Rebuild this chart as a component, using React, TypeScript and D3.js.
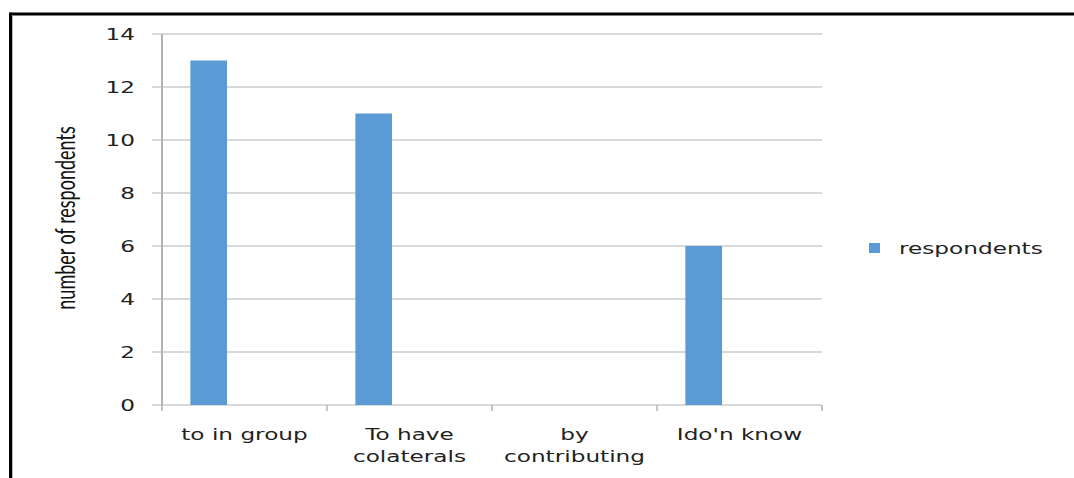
import React from "react";
import * as d3 from "d3";

const categories = ["to in group", "To have colaterals", "by contributing", "Ido'n know"];
const categoryLines = [["to in group"], ["To have", "colaterals"], ["by", "contributing"], ["Ido'n know"]];
const respondents = [13, 11, 0, 6];
const yTicks = [0, 2, 4, 6, 8, 10, 12, 14];
const seriesName = "respondents";
const yTitle = "number of respondents";

const W = 1074;
const H = 478;
const plot = { left: 162, right: 822, top: 34, bottom: 405 };
const SX = 1.45; // horizontal glyph stretch
const FONT = "'DejaVu Sans', Verdana, sans-serif";
const TITLE_FONT = "Lato, 'Open Sans', sans-serif";
const BAR = "#5b9bd5";
const GRID = "#b3b3b3";
const TEXT = "#222";

export default function App() {
  const x = d3.scaleBand<string>().domain(categories).range([plot.left, plot.right]).padding(0);
  const y = d3.scaleLinear().domain([0, 14]).range([plot.bottom, plot.top]);
  const bw = x.bandwidth();
  const bars = categories.map((c, i) => ({ c, v: respondents[i] }));

  return (
    <svg
      width={W}
      height={H}
      style={{ position: "absolute", left: 0, top: 0, background: "#fff" }}
    >
      <rect x={0} y={0} width={W} height={H} fill="#fff" />
      {/* outer frame */}
      <line x1={10.5} x2={W} y1={14} y2={14} stroke="#000" strokeWidth={3} />
      <line x1={10.5} x2={10.5} y1={12.5} y2={H} stroke="#000" strokeWidth={3} />
      <line x1={12.5} x2={12.5} y1={15.5} y2={H} stroke="#bbb" strokeWidth={1} />

      {/* horizontal gridlines with outward ticks */}
      {yTicks.map((t) => (
        <g key={t}>
          <line x1={plot.left - 10} x2={plot.right} y1={y(t)} y2={y(t)} stroke={GRID} strokeWidth={1.2} />
          <text
            transform={`translate(135,${y(t) + 5.5}) scale(${SX},1)`}
            textAnchor="end"
            fontFamily={FONT}
            fontSize={16}
            fill={TEXT}
          >
            {t}
          </text>
        </g>
      ))}

      {/* value axis line */}
      <line x1={plot.left} x2={plot.left} y1={plot.top} y2={plot.bottom} stroke={GRID} strokeWidth={2} />

      {/* category ticks */}
      {[...categories.map((c) => x(c) as number), plot.right].map((px, i) => (
        <line key={i} x1={px} x2={px} y1={plot.bottom} y2={plot.bottom + 6} stroke={GRID} strokeWidth={1.5} />
      ))}

      {/* bars */}
      {bars.map((b) =>
        b.v > 0 ? (
          <rect
            key={b.c}
            x={(x(b.c) as number) + bw * 0.172}
            y={y(b.v)}
            width={bw * 0.222}
            height={y(0) - y(b.v)}
            fill={BAR}
          />
        ) : null
      )}

      {/* category labels */}
      {categories.map((c, i) =>
        categoryLines[i].map((line, j) => (
          <text
            key={c + j}
            transform={`translate(${(x(c) as number) + bw / 2},${440 + j * 22}) scale(${SX},1)`}
            textAnchor="middle"
            fontFamily={FONT}
            fontSize={16}
            fill={TEXT}
          >
            {line}
          </text>
        ))
      )}

      {/* value axis title */}
      <text
        transform={`translate(75,218) scale(1.55,1) rotate(-90)`}
        textAnchor="middle"
        fontFamily={TITLE_FONT}
        fontSize={18}
        fill="#111"
      >
        {yTitle}
      </text>

      {/* legend */}
      <rect x={869} y={243} width={11} height={10} fill={BAR} />
      <text
        transform={`translate(899,254) scale(${SX},1)`}
        fontFamily={FONT}
        fontSize={16}
        fill={TEXT}
      >
        {seriesName}
      </text>
    </svg>
  );
}
